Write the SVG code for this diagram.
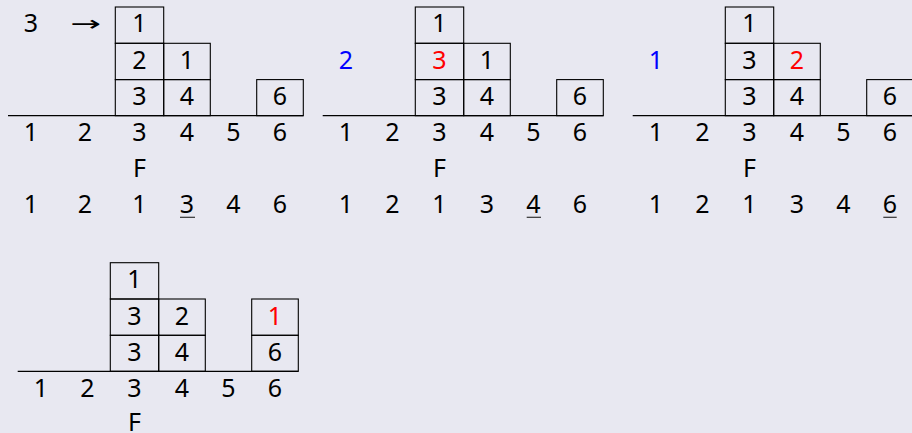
<svg xmlns="http://www.w3.org/2000/svg" width="912" height="433" viewBox="0 0 912 433">
<style>
.bg{fill:#e8e8f1}
.box{fill:none;stroke:#000;stroke-width:1.1}
.axis{stroke:#000;stroke-width:1.2}
.ul{stroke:#333;stroke-width:1.2}
text{font-family:"Noto Sans","Liberation Sans",sans-serif;font-size:25px;fill:#000;text-anchor:middle}
.r{fill:#ff0000}
.b{fill:#0000ff}
.arrow{font-family:"DejaVu Sans",sans-serif;font-size:21px;text-anchor:start}
</style>
<rect class="bg" x="0" y="0" width="912" height="433"/>

<g id="connectors">
  <line class="axis" x1="8" y1="115.7" x2="303.3" y2="115.7"/>
  <line class="axis" x1="322.7" y1="115.7" x2="603.3" y2="115.7"/>
  <line class="axis" x1="632.7" y1="115.7" x2="912" y2="115.7"/>
  <line class="axis" x1="17.7" y1="371.3" x2="298.3" y2="371.3"/>
  <line class="ul" x1="180" y1="217.3" x2="195" y2="217.3"/>
  <line class="ul" x1="526.7" y1="217.3" x2="541" y2="217.3"/>
  <line class="ul" x1="883.3" y1="217.3" x2="896.7" y2="217.3"/>
</g>

<!-- Panel 1 -->
<g id="panel1">
  <g id="p1-head">
    <text x="31" y="32.3">3</text>
    <text class="arrow" transform="translate(70.5,31.2) scale(1.75,1)" x="0" y="0">→</text>
  </g>
  <g id="p1-c3r1"><rect class="box" x="115.3" y="7" width="48.4" height="36.3"/><text x="139.5" y="32.3">1</text></g>
  <g id="p1-c3r2"><rect class="box" x="115.3" y="43.3" width="48.4" height="36.3"/><text x="139.5" y="68.8">2</text></g>
  <g id="p1-c3r3"><rect class="box" x="115.3" y="79.6" width="48.4" height="36.1"/><text x="139.5" y="105">3</text></g>
  <g id="p1-c4r2"><rect class="box" x="163.7" y="43.3" width="46.6" height="36.3"/><text x="187" y="68.8">1</text></g>
  <g id="p1-c4r3"><rect class="box" x="163.7" y="79.6" width="46.6" height="36.1"/><text x="187" y="105">4</text></g>
  <g id="p1-c6r3"><rect class="box" x="256.7" y="79.6" width="46.6" height="36.1"/><text x="280" y="105">6</text></g>
  <g id="p1-labels">
    <text x="31" y="141">1</text><text x="85" y="141">2</text><text x="139.5" y="141">3</text>
    <text x="187" y="141">4</text><text x="233.3" y="141">5</text><text x="280" y="141">6</text>
    <text x="139.5" y="177">F</text>
    <text x="31" y="212.6">1</text><text x="85" y="212.6">2</text><text x="139.5" y="212.6">1</text>
    <text x="187" y="212.6">3</text><text x="233.3" y="212.6">4</text><text x="280" y="212.6">6</text>
  </g>
</g>

<!-- Panel 2 -->
<g id="panel2">
  <g id="p2-head"><text class="b" x="346" y="68.8">2</text></g>
  <g id="p2-c3r1"><rect class="box" x="415.3" y="7" width="48.4" height="36.3"/><text x="439.5" y="32.3">1</text></g>
  <g id="p2-c3r2"><rect class="box" x="415.3" y="43.3" width="48.4" height="36.3"/><text class="r" x="439.5" y="68.8">3</text></g>
  <g id="p2-c3r3"><rect class="box" x="415.3" y="79.6" width="48.4" height="36.1"/><text x="439.5" y="105">3</text></g>
  <g id="p2-c4r2"><rect class="box" x="463.7" y="43.3" width="46.6" height="36.3"/><text x="487" y="68.8">1</text></g>
  <g id="p2-c4r3"><rect class="box" x="463.7" y="79.6" width="46.6" height="36.1"/><text x="487" y="105">4</text></g>
  <g id="p2-c6r3"><rect class="box" x="556.7" y="79.6" width="46.6" height="36.1"/><text x="580" y="105">6</text></g>
  <g id="p2-labels">
    <text x="346" y="141">1</text><text x="392.3" y="141">2</text><text x="439.5" y="141">3</text>
    <text x="487" y="141">4</text><text x="533.3" y="141">5</text><text x="580" y="141">6</text>
    <text x="439.5" y="177">F</text>
    <text x="346" y="212.6">1</text><text x="392.3" y="212.6">2</text><text x="439.5" y="212.6">1</text>
    <text x="487" y="212.6">3</text><text x="533.3" y="212.6">4</text><text x="580" y="212.6">6</text>
  </g>
</g>

<!-- Panel 3 -->
<g id="panel3">
  <g id="p3-head"><text class="b" x="656" y="68.8">1</text></g>
  <g id="p3-c3r1"><rect class="box" x="725.3" y="7" width="48.4" height="36.3"/><text x="749.5" y="32.3">1</text></g>
  <g id="p3-c3r2"><rect class="box" x="725.3" y="43.3" width="48.4" height="36.3"/><text x="749.5" y="68.8">3</text></g>
  <g id="p3-c3r3"><rect class="box" x="725.3" y="79.6" width="48.4" height="36.1"/><text x="749.5" y="105">3</text></g>
  <g id="p3-c4r2"><rect class="box" x="773.7" y="43.3" width="46.6" height="36.3"/><text class="r" x="797" y="68.8">2</text></g>
  <g id="p3-c4r3"><rect class="box" x="773.7" y="79.6" width="46.6" height="36.1"/><text x="797" y="105">4</text></g>
  <g id="p3-c6r3"><rect class="box" x="866.7" y="79.6" width="46.6" height="36.1"/><text x="890" y="105">6</text></g>
  <g id="p3-labels">
    <text x="656" y="141">1</text><text x="702.3" y="141">2</text><text x="749.5" y="141">3</text>
    <text x="797" y="141">4</text><text x="843.3" y="141">5</text><text x="890" y="141">6</text>
    <text x="749.5" y="177">F</text>
    <text x="656" y="212.6">1</text><text x="702.3" y="212.6">2</text><text x="749.5" y="212.6">1</text>
    <text x="797" y="212.6">3</text><text x="843.3" y="212.6">4</text><text x="890" y="212.6">6</text>
  </g>
</g>

<!-- Panel 4 -->
<g id="panel4">
  <g id="p4-c3r1"><rect class="box" x="110.3" y="262.7" width="48.4" height="36.3"/><text x="134.5" y="288">1</text></g>
  <g id="p4-c3r2"><rect class="box" x="110.3" y="299" width="48.4" height="36.3"/><text x="134.5" y="324.5">3</text></g>
  <g id="p4-c3r3"><rect class="box" x="110.3" y="335.3" width="48.4" height="36"/><text x="134.5" y="360.7">3</text></g>
  <g id="p4-c4r2"><rect class="box" x="158.7" y="299" width="46.6" height="36.3"/><text x="182" y="324.5">2</text></g>
  <g id="p4-c4r3"><rect class="box" x="158.7" y="335.3" width="46.6" height="36"/><text x="182" y="360.7">4</text></g>
  <g id="p4-c6r2"><rect class="box" x="251.7" y="299" width="46.6" height="36.3"/><text class="r" x="275" y="324.5">1</text></g>
  <g id="p4-c6r3"><rect class="box" x="251.7" y="335.3" width="46.6" height="36"/><text x="275" y="360.7">6</text></g>
  <g id="p4-labels">
    <text x="41" y="396.7">1</text><text x="87.3" y="396.7">2</text><text x="134.5" y="396.7">3</text>
    <text x="182" y="396.7">4</text><text x="228.3" y="396.7">5</text><text x="275" y="396.7">6</text>
    <text x="134.5" y="430.5">F</text>
  </g>
</g>
</svg>
